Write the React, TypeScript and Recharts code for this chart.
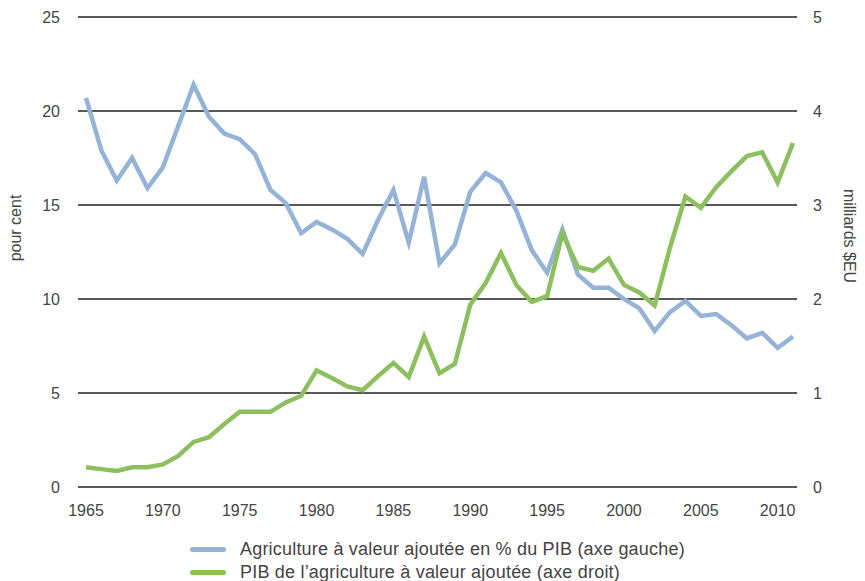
import React from 'react';
import { CartesianGrid, Legend, Line, LineChart, XAxis, YAxis } from 'recharts';

const years = [
  1965, 1966, 1967, 1968, 1969, 1970, 1971, 1972, 1973, 1974, 1975, 1976, 1977, 1978, 1979, 1980,
  1981, 1982, 1983, 1984, 1985, 1986, 1987, 1988, 1989, 1990, 1991, 1992, 1993, 1994, 1995, 1996,
  1997, 1998, 1999, 2000, 2001, 2002, 2003, 2004, 2005, 2006, 2007, 2008, 2009, 2010, 2011,
];

// % du PIB (axe gauche)
const sharePct = [
  20.7, 17.9, 16.3, 17.5, 15.9, 17.0, 19.2, 21.4, 19.7, 18.8, 18.5, 17.7, 15.8, 15.1, 13.5, 14.1,
  13.7, 13.2, 12.4, 14.2, 15.8, 13.0, 16.5, 11.9, 12.9, 15.7, 16.7, 16.2, 14.7, 12.6, 11.4, 13.7,
  11.3, 10.6, 10.6, 10.0, 9.5, 8.3, 9.3, 9.9, 9.1, 9.2, 8.6, 7.9, 8.2, 7.4, 8.0,
];

// milliards $EU (axe droit)
const valueBn = [
  0.21, 0.19, 0.17, 0.21, 0.21, 0.24, 0.33, 0.48, 0.53, 0.67, 0.8, 0.8, 0.8, 0.9, 0.97, 1.24,
  1.16, 1.07, 1.03, 1.18, 1.32, 1.17, 1.6, 1.21, 1.31, 1.94, 2.17, 2.49, 2.15, 1.97, 2.03, 2.7,
  2.34, 2.3, 2.43, 2.15, 2.07, 1.93, 2.55, 3.09, 2.97, 3.19, 3.36, 3.52, 3.56, 3.24, 3.66,
];

const leftTicks = [0, 5, 10, 15, 20, 25];
const rightTicks = [0, 1, 2, 3, 4, 5];

const seriesNames = [
  'Agriculture à valeur ajoutée en % du PIB (axe gauche)',
  'PIB de l\u2019agriculture à valeur ajoutée (axe droit)',
];

const BLUE = '#95b3d7';
const GREEN = '#8dbf5e';
const TEXT = '#444';
const FONT = '"Liberation Sans", Arial, sans-serif';

const data = years.map((y, i) => ({ year: y, share: sharePct[i], value: valueBn[i] }));

const LegendBox = () => (
  <div
    style={{
      height: 48,
      boxSizing: 'border-box',
      paddingLeft: 190,
      paddingTop: 5,
      fontFamily: FONT,
      fontSize: 18,
      letterSpacing: 0.2,
      color: TEXT,
    }}
  >
    {[BLUE, GREEN].map((c, i) => (
      <div key={i} style={{ display: 'flex', alignItems: 'center', height: 23 }}>
        <span style={{ display: 'inline-block', width: 36, height: 5, background: c, borderRadius: 2.5, marginRight: 14 }} />
        <span>{seriesNames[i]}</span>
      </div>
    ))}
  </div>
);

const LeftTitle = () => (
  <text x={15} y={228} transform="rotate(-90 15 228)" textAnchor="middle" dominantBaseline="central" fill={TEXT} fontSize={16} fontFamily={FONT}>
    pour cent
  </text>
);

const RightTitle = () => (
  <text x={849} y={236} transform="rotate(90 849 236)" textAnchor="middle" dominantBaseline="central" fill={TEXT} fontSize={16} fontFamily={FONT}>
    milliards $EU
  </text>
);

const App = () => {
  return (
    <div style={{ position: 'absolute', left: 0, top: 0, background: '#fff' }}>
      <LineChart width={865} height={581} data={data} margin={{ top: 17, right: 0, bottom: 0, left: 0 }}>
        <CartesianGrid yAxisId="left" vertical={false} stroke="#222" strokeWidth={1.4} />
        <XAxis
          dataKey="year"
          interval={4}
          axisLine={false}
          tickLine={false}
          height={46}
          tickMargin={12}
          padding={{ left: 8, right: 4 }}
          tick={{ fill: TEXT, fontSize: 16, fontFamily: FONT }}
        />
        <YAxis
          yAxisId="left"
          domain={[0, 25]}
          ticks={leftTicks}
          axisLine={false}
          tickLine={false}
          width={78}
          tickMargin={12}
          tick={{ fill: TEXT, fontSize: 16, fontFamily: FONT }}
          label={{ content: <LeftTitle /> }}
        />
        <YAxis
          yAxisId="right"
          orientation="right"
          domain={[0, 5]}
          ticks={rightTicks}
          axisLine={false}
          tickLine={false}
          width={68}
          tickMargin={10}
          tick={{ fill: TEXT, fontSize: 16, fontFamily: FONT, textAnchor: 'start' }}
          label={{ content: <RightTitle /> }}
        />
        <Line yAxisId="left" dataKey="share" stroke={BLUE} strokeWidth={4.5} dot={false} isAnimationActive={false} />
        <Line yAxisId="right" dataKey="value" stroke={GREEN} strokeWidth={4.5} dot={false} isAnimationActive={false} />
        <Legend verticalAlign="bottom" content={<LegendBox />} />
      </LineChart>
    </div>
  );
};

export default App;
